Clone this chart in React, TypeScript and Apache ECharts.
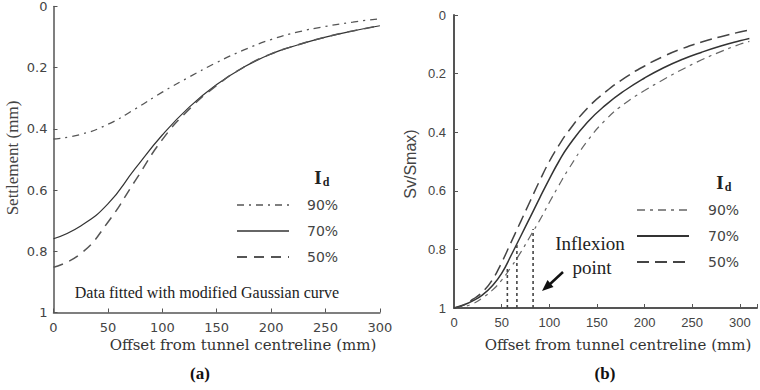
import React, { useEffect, useRef } from "react";
import * as echarts from "echarts";

// Panel (a): settlement profiles fitted with a modified Gaussian curve
const leftOffsets = [0, 25, 50, 75, 100, 125, 150, 175, 200, 225, 250, 275, 300];
const left90 = [0.433, 0.418, 0.385, 0.335, 0.28, 0.23, 0.183, 0.142, 0.108, 0.083, 0.065, 0.051, 0.04];
const left70 = [0.759, 0.717, 0.645, 0.53, 0.42, 0.328, 0.255, 0.198, 0.155, 0.125, 0.1, 0.08, 0.063];
const left50 = [0.852, 0.808, 0.705, 0.57, 0.435, 0.335, 0.258, 0.198, 0.155, 0.125, 0.1, 0.08, 0.063];

// Panel (b): normalised settlement Sv/Smax
const rightOffsets = [0, 10, 20, 30, 40, 50, 60, 70, 80, 90, 100, 110, 120, 140, 160, 180, 200, 220, 240, 260, 280, 300, 310];
const right90 = [1, 0.995, 0.985, 0.965, 0.94, 0.905, 0.86, 0.81, 0.755, 0.7, 0.64, 0.582, 0.527, 0.43, 0.355, 0.3, 0.258, 0.22, 0.185, 0.153, 0.125, 0.1, 0.09];
const right70 = [1, 0.99, 0.975, 0.955, 0.925, 0.882, 0.82, 0.755, 0.69, 0.624, 0.56, 0.5, 0.448, 0.366, 0.305, 0.256, 0.215, 0.18, 0.151, 0.127, 0.106, 0.088, 0.08];
const right50 = [1, 0.99, 0.97, 0.945, 0.905, 0.845, 0.775, 0.705, 0.635, 0.565, 0.5, 0.445, 0.397, 0.318, 0.26, 0.213, 0.174, 0.141, 0.114, 0.092, 0.074, 0.058, 0.051];

// Inflexion points marked by dotted drop lines
const inflexOffsets = [56, 66, 83];
const inflexValues = [0.86, 0.78, 0.73];

const legendLabels = ["90%", "70%", "50%"];
const yTicks = [0, 0.2, 0.4, 0.6, 0.8, 1];

const pair = (xs: number[], ys: number[]) => xs.map((x, i) => [x, ys[i]]);

const serif = "Liberation Serif";
const ink = "#333";

const styleL90 = { color: "#555", width: 1.3, type: [7, 5, 2, 5] as any };
const styleL70 = { color: "#333", width: 1.2, type: "solid" as any };
const styleL50 = { color: "#555", width: 1.5, type: [10, 7] as any };
const styleR90 = { color: "#666", width: 1.2, type: [8, 5, 3, 5] as any };
const styleR70 = { color: "#333", width: 1.5, type: "solid" as any };
const styleR50 = { color: "#444", width: 1.5, type: [12, 6] as any };

function legendBlock(x0: number, y0: number, styles: any[], idX: number, idY: number, labelX: number) {
  const els: any[] = [
    { type: "text", x: idX, y: idY, style: { text: "I", fontFamily: serif, fontWeight: "bold", fontSize: 19, fill: "#222", align: "center", verticalAlign: "middle" } },
    { type: "text", x: idX + 8, y: idY + 5, style: { text: "d", fontFamily: serif, fontWeight: "bold", fontSize: 12, fill: "#222", align: "center", verticalAlign: "middle" } },
  ];
  styles.forEach((s, i) => {
    const y = y0 + i * 26;
    els.push({
      type: "line",
      shape: { x1: x0, y1: y, x2: x0 + 52, y2: y },
      style: { stroke: s.color, lineWidth: s.width + 0.4, lineDash: Array.isArray(s.type) ? s.type : null },
    });
    els.push({
      type: "text", x: labelX, y,
      style: { text: legendLabels[i], fontFamily: "DejaVu Sans", fontSize: 14, fill: "#444", align: "left", verticalAlign: "middle" },
    });
  });
  return els;
}

export default function App() {
  const ref = useRef<HTMLDivElement>(null);

  useEffect(() => {
    if (!ref.current) return;
    const chart = echarts.init(ref.current, null, { renderer: "svg" });

    const yAxisBase = (grid: number, font: string, size: number, lineW: number, margin: number) => ({
      type: "value", gridIndex: grid, inverse: true, min: 0, max: 1, interval: 0.2,
      axisLine: { show: true, lineStyle: { color: "#555", width: lineW } },
      axisTick: { show: true, inside: true, length: 4, lineStyle: { color: "#555" } },
      splitLine: { show: false },
      axisLabel: { fontFamily: font, fontSize: size, color: "#444", margin, formatter: (v: number) => (yTicks.includes(Math.round(v * 10) / 10) ? String(Math.round(v * 10) / 10) : "") },
    });

    const xAxisBase = (grid: number, max: number, font: string, size: number, lineW: number) => ({
      type: "value", gridIndex: grid, min: 0, max, interval: 50,
      axisLine: { show: true, onZero: false, lineStyle: { color: "#555", width: lineW } },
      axisTick: { show: true, inside: true, length: 4, lineStyle: { color: "#555" } },
      splitLine: { show: false },
      axisLabel: { fontFamily: font, fontSize: size, color: "#444", margin: 8, formatter: (v: number) => (v % 50 === 0 ? String(v) : "") },
    });

    const line = (name: string, x: number, data: number[][], ls: any) => ({
      name, type: "line", xAxisIndex: x, yAxisIndex: x, data, smooth: 0.5, symbol: "none",
      lineStyle: ls, silent: true,
    });

    const inflexSeries = inflexOffsets.map((x, i) => ({
      type: "line", xAxisIndex: 1, yAxisIndex: 1, symbol: "none", silent: true,
      data: [[x, 1], [x, inflexValues[i]]],
      lineStyle: { color: "#444", width: 1.6, type: [3, 3] },
    }));

    chart.setOption({
      animation: false,
      backgroundColor: "#fff",
      grid: [
        { left: 53.5, top: 2.5, width: 326.4, height: 310 },
        { left: 454, top: 15, width: 304.6, height: 293 },
      ],
      xAxis: [
        xAxisBase(0, 300, "DejaVu Sans", 13, 1.5),
        xAxisBase(1, 318, "Liberation Sans", 13, 2),
      ],
      yAxis: [
        yAxisBase(0, "DejaVu Sans", 13, 1.5, 6),
        yAxisBase(1, "Liberation Sans", 13, 2, 8),
      ],
      series: [
        line("90%", 0, pair(leftOffsets, left90), styleL90),
        line("70%", 0, pair(leftOffsets, left70), styleL70),
        line("50%", 0, pair(leftOffsets, left50), styleL50),
        line("90%", 1, pair(rightOffsets, right90), styleR90),
        line("70%", 1, pair(rightOffsets, right70), styleR70),
        line("50%", 1, pair(rightOffsets, right50), styleR50),
        ...inflexSeries,
      ],
      graphic: [
        // axis titles
        { type: "text", x: 243, y: 345, style: { text: "Offset from tunnel centreline (mm)", fontFamily: "DejaVu Serif", fontSize: 15, fill: ink, align: "center", verticalAlign: "middle" } },
        { type: "text", x: 618, y: 345, style: { text: "Offset from tunnel centreline (mm)", fontFamily: "DejaVu Serif", fontSize: 15, fill: ink, align: "center", verticalAlign: "middle" } },
        { type: "text", x: 12, y: 158, rotation: Math.PI / 2, style: { text: "Settlement (mm)", fontFamily: serif, fontSize: 17, fill: "#444", align: "center", verticalAlign: "middle" } },
        { type: "text", x: 410, y: 164, rotation: Math.PI / 2, style: { text: "Sv/Smax)", fontFamily: "Liberation Sans", fontSize: 16, fill: "#444", align: "center", verticalAlign: "middle" } },
        // panel captions
        { type: "text", x: 200, y: 373, style: { text: "(a)", fontFamily: serif, fontWeight: "bold", fontSize: 17, fill: "#111", align: "center", verticalAlign: "middle" } },
        { type: "text", x: 605, y: 373, style: { text: "(b)", fontFamily: serif, fontWeight: "bold", fontSize: 17, fill: "#111", align: "center", verticalAlign: "middle" } },
        // annotations
        { type: "text", x: 207, y: 292, style: { text: "Data fitted with modified Gaussian curve", fontFamily: serif, fontSize: 16, fill: "#222", align: "center", verticalAlign: "middle" } },
        { type: "text", x: 590, y: 243, style: { text: "Inflexion", fontFamily: serif, fontSize: 19, fill: "#222", align: "center", verticalAlign: "middle" } },
        { type: "text", x: 592, y: 267, style: { text: "point", fontFamily: serif, fontSize: 19, fill: "#222", align: "center", verticalAlign: "middle" } },
        { type: "line", shape: { x1: 563, y1: 272, x2: 549, y2: 285 }, style: { stroke: "#111", lineWidth: 2.5 } },
        { type: "polygon", shape: { points: [[542, 291], [553.5, 287], [547.5, 280]] }, style: { fill: "#111" } },
        // legends
        ...legendBlock(237, 205, [styleL90, styleL70, styleL50], 318, 177, 307),
        ...legendBlock(637, 210, [styleR90, styleR70, styleR50], 720, 182, 708),
      ],
    });

    return () => chart.dispose();
  }, []);

  return <div ref={ref} style={{ position: "absolute", left: 0, top: 0, width: 760, height: 390 }} />;
}
